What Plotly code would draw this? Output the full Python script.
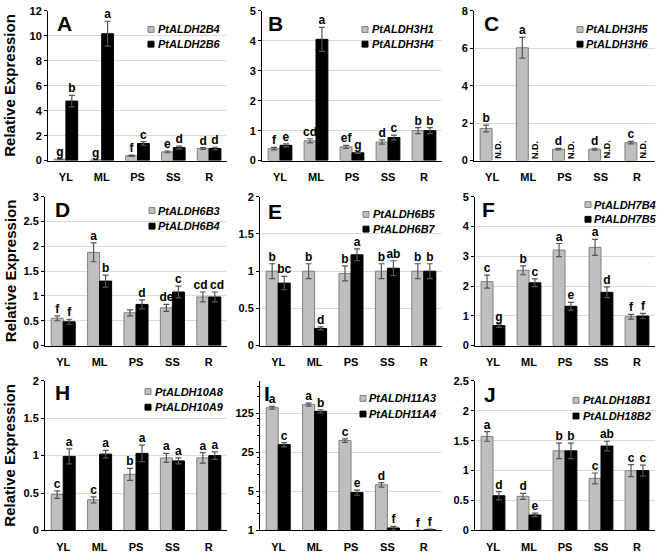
import plotly.graph_objects as go

W, H = 657, 559
FONT = "Liberation Sans"
cats = ["YL", "ML", "PS", "SS", "R"]

# ---------------- data ----------------
A_genes = ["PtALDH2B4", "PtALDH2B6"]
A_gray = [0.12, 0.05, 0.39, 0.70, 0.97]
A_gray_err = [0.02, 0.01, 0.05, 0.07, 0.08]
A_black = [4.77, 10.17, 1.38, 1.04, 0.97]
A_black_err = [0.46, 1.00, 0.15, 0.12, 0.10]
A_gray_lbl = ["g", "g", "f", "e", "d"]
A_black_lbl = ["b", "a", "c", "d", "d"]

B_genes = ["PtALDH3H1", "PtALDH3H4"]
B_gray = [0.40, 0.66, 0.46, 0.62, 1.00]
B_gray_err = [0.04, 0.07, 0.05, 0.07, 0.10]
B_black = [0.51, 4.05, 0.26, 0.77, 1.00]
B_black_err = [0.05, 0.40, 0.02, 0.08, 0.10]
B_gray_lbl = ["f", "cd", "ef", "d", "b"]
B_black_lbl = ["e", "a", "g", "c", "b"]

C_genes = ["PtALDH3H5", "PtALDH3H6"]
C_gray = [1.72, 6.03, 0.61, 0.61, 0.96]
C_gray_err = [0.18, 0.55, 0.04, 0.05, 0.07]
C_black = [None, None, None, None, None]
C_black_err = [0, 0, 0, 0, 0]
C_gray_lbl = ["b", "a", "d", "d", "c"]
C_black_lbl = ["", "", "", "", ""]
C_black_nd = ["N.D.", "N.D.", "N.D.", "N.D.", "N.D."]

D_genes = ["PtALDH6B3", "PtALDH6B4"]
D_gray = [0.55, 1.88, 0.66, 0.76, 0.98]
D_gray_err = [0.05, 0.19, 0.06, 0.07, 0.10]
D_black = [0.48, 1.30, 0.83, 1.08, 0.98]
D_black_err = [0.05, 0.12, 0.09, 0.12, 0.10]
D_gray_lbl = ["f", "a", "", "de", "cd"]
D_black_lbl = ["f", "b", "d", "c", "cd"]

E_genes = ["PtALDH6B5", "PtALDH6B7"]
E_gray = [1.00, 1.00, 0.97, 1.00, 1.00]
E_gray_err = [0.10, 0.10, 0.10, 0.10, 0.10]
E_black = [0.84, 0.23, 1.22, 1.04, 1.00]
E_black_err = [0.09, 0.02, 0.08, 0.10, 0.10]
E_gray_lbl = ["b", "b", "b", "b", "b"]
E_black_lbl = ["bc", "d", "a", "ab", "b"]

F_genes = ["PtALDH7B4", "PtALDH7B5"]
F_gray = [2.15, 2.53, 3.21, 3.30, 0.97]
F_gray_err = [0.22, 0.15, 0.22, 0.27, 0.08]
F_black = [0.67, 2.11, 1.32, 1.79, 0.99]
F_black_err = [0.06, 0.13, 0.13, 0.18, 0.09]
F_gray_lbl = ["c", "b", "a", "a", "f"]
F_black_lbl = ["g", "c", "e", "d", "f"]

H_genes = ["PtALDH10A8", "PtALDH10A9"]
H_gray = [0.48, 0.41, 0.75, 0.97, 0.97]
H_gray_err = [0.05, 0.04, 0.08, 0.06, 0.07]
H_black = [0.99, 1.02, 1.03, 0.93, 1.00]
H_black_err = [0.10, 0.05, 0.11, 0.04, 0.05]
H_gray_lbl = ["c", "c", "b", "a", "a"]
H_black_lbl = ["a", "a", "a", "a", "a"]

I_genes = ["PtALDH11A3", "PtALDH11A4"]
I_gray = [159, 181, 41, 6.6, 1.0]
I_gray_err = [9, 11, 3, 0.6, 0.02]
I_black = [34.6, 137, 4.78, 1.11, 1.03]
I_black_err = [3, 9, 0.5, 0.08, 0.03]
I_gray_lbl = ["a", "a", "c", "d", "f"]
I_black_lbl = ["c", "b", "e", "f", "f"]

J_genes = ["PtALDH18B1", "PtALDH18B2"]
J_gray = [1.57, 0.57, 1.33, 0.87, 1.00]
J_gray_err = [0.08, 0.05, 0.13, 0.09, 0.10]
J_black = [0.58, 0.26, 1.33, 1.41, 1.00]
J_black_err = [0.07, 0.03, 0.13, 0.08, 0.09]
J_gray_lbl = ["a", "d", "b", "c", "c"]
J_black_lbl = ["d", "e", "b", "ab", "c"]

# ---------------- layout specs (pixel boxes) ----------------
panels = [
    dict(L="A", genes=A_genes, g=A_gray, ge=A_gray_err, b=A_black, be=A_black_err, gl=A_gray_lbl, bl=A_black_lbl,
         px=(48, 227), py=(5, 158), yr=(0, 12), dt=2, leg=(148, 156, 24, 39), let=(55, 18)),
    dict(L="B", genes=B_genes, g=B_gray, ge=B_gray_err, b=B_black, be=B_black_err, gl=B_gray_lbl, bl=B_black_lbl,
         px=(262, 442), py=(5, 158), yr=(0, 5), dt=1, leg=(362, 370, 24, 39), let=(266, 18)),
    dict(L="C", genes=C_genes, g=C_gray, ge=C_gray_err, b=C_black, be=C_black_err, gl=C_gray_lbl, bl=C_black_lbl,
         px=(474, 655), py=(5, 158), yr=(0, 8), dt=2, leg=(577, 584, 24, 39), let=(482, 18), nd=C_black_nd),
    dict(L="D", genes=D_genes, g=D_gray, ge=D_gray_err, b=D_black, be=D_black_err, gl=D_gray_lbl, bl=D_black_lbl,
         px=(45, 227), py=(195, 347), yr=(0, 3), dt=0.5, leg=(149, 156, 209, 225), let=(53, 208)),
    dict(L="E", genes=E_genes, g=E_gray, ge=E_gray_err, b=E_black, be=E_black_err, gl=E_gray_lbl, bl=E_black_lbl,
         px=(260, 442), py=(195, 347), yr=(0, 2), dt=0.5, leg=(363, 371, 213, 228), let=(266, 210)),
    dict(L="F", genes=F_genes, g=F_gray, ge=F_gray_err, b=F_black, be=F_black_err, gl=F_gray_lbl, bl=F_black_lbl,
         px=(475, 655), py=(195, 347), yr=(0, 5), dt=1, leg=(585, 592, 203, 218), let=(480, 208)),
    dict(L="H", genes=H_genes, g=H_gray, ge=H_gray_err, b=H_black, be=H_black_err, gl=H_gray_lbl, bl=H_black_lbl,
         px=(45, 227), py=(383, 536), yr=(0, 2), dt=0.5, leg=(145, 153, 394, 410), let=(53, 395)),
    dict(L="I", genes=I_genes, g=I_gray, ge=I_gray_err, b=I_black, be=I_black_err, gl=I_gray_lbl, bl=I_black_lbl,
         px=(260, 442), py=(383, 536), yr=(0, 2.684), dt=None, log=True, leg=(360, 367, 401, 417), let=(262, 396)),
    dict(L="J", genes=J_genes, g=J_gray, ge=J_gray_err, b=J_black, be=J_black_err, gl=J_gray_lbl, bl=J_black_lbl,
         px=(475, 655), py=(383, 536), yr=(0, 2.5), dt=0.5, leg=(573, 581, 403, 419), let=(482, 397)),
]

GRAY = "#bfbfbf"
GRAY_LINE = "#7f7f7f"
ERR = "#555555"
BW = 0.33

def fx(p):
    return p / W

def fy(p):
    return 1 - p / H

fig = go.Figure()
annotations = []
shapes = []
xs = list(range(len(cats)))

for k, p in enumerate(panels, start=1):
    xa = "x" if k == 1 else f"x{k}"
    ya = "y" if k == 1 else f"y{k}"
    fig.add_trace(go.Bar(x=xs, y=p["g"], width=BW, offset=-BW, xaxis=xa, yaxis=ya,
                         marker=dict(color=GRAY, line=dict(color=GRAY_LINE, width=1)),
                         error_y=dict(type="data", array=p["ge"], color=ERR, thickness=1.2, width=3),
                         showlegend=False, hoverinfo="skip"))
    fig.add_trace(go.Bar(x=xs, y=p["b"], width=BW, offset=0, xaxis=xa, yaxis=ya,
                         marker=dict(color="black", line=dict(color="black", width=1)),
                         error_y=dict(type="data", array=p["be"], color=ERR, thickness=1.2, width=3),
                         showlegend=False, hoverinfo="skip"))
    # significance letters (spread a little when two long labels sit side by side)
    spread = [0.06 if (len(a) > 1 and len(b) > 1) else 0.0 for a, b in zip(p["gl"], p["bl"])]
    gx = [i - BW / 2 - s for i, s in zip(xs, spread)]
    bx = [i + BW / 2 + s for i, s in zip(xs, spread)]
    gy = [v + e for v, e in zip(p["g"], p["ge"])]
    fig.add_trace(go.Scatter(x=gx, y=gy, text=p["gl"], mode="text", textposition="top center",
                             textfont=dict(family=FONT, size=12, color="black", weight="bold"),
                             xaxis=xa, yaxis=ya, cliponaxis=False, showlegend=False, hoverinfo="skip"))
    bvals = [(v + e) if v is not None else None for v, e in zip(p["b"], p["be"])]
    fig.add_trace(go.Scatter(x=bx, y=bvals, text=p["bl"], mode="text", textposition="top center",
                             textfont=dict(family=FONT, size=12, color="black", weight="bold"),
                             xaxis=xa, yaxis=ya, cliponaxis=False, showlegend=False, hoverinfo="skip"))
    if "nd" in p:
        for i, t in enumerate(p["nd"]):
            annotations.append(dict(x=i + BW / 2, y=0, xref=xa, yref=ya, text=f"<b>{t}</b>", textangle=-90,
                                    showarrow=False, xanchor="center", yanchor="bottom",
                                    font=dict(family=FONT, size=9, color="black")))

    xdom = [fx(p["px"][0]), fx(p["px"][1])]
    ydom = [fy(p["py"][1]), fy(p["py"][0])]
    xkey = "xaxis" if k == 1 else f"xaxis{k}"
    ykey = "yaxis" if k == 1 else f"yaxis{k}"
    fig.layout[xkey] = dict(domain=xdom, anchor=ya, range=[-0.5, 4.5], tickvals=xs, ticktext=cats,
                            showline=True, linecolor="black", linewidth=1, ticks="", showgrid=False,
                            zeroline=False, ticklabelstandoff=6,
                            tickfont=dict(family=FONT, size=11, color="black", weight="bold"))
    ydict = dict(domain=ydom, anchor=xa, showline=True, linecolor="black", linewidth=1,
                 ticks="outside", ticklen=3, tickcolor="black", showgrid=True, gridcolor="#d9d9d9",
                 gridwidth=1, zeroline=False,
                 tickfont=dict(family=FONT, size=11, color="black", weight="bold"))
    if p.get("log"):
        ydict.update(type="log", range=list(p["yr"]), tickvals=[1, 5, 25, 125], ticktext=["1", "5", "25", "125"],
                     minor=dict(tickvals=[2, 3, 4, 10, 15, 20, 50, 75, 100, 250, 375],
                                ticks="outside", ticklen=2, tickcolor="black", showgrid=False))
    else:
        ydict.update(range=list(p["yr"]), dtick=p["dt"], tick0=0)
    fig.layout[ykey] = ydict

    # panel letter
    annotations.append(dict(x=fx(p["let"][0]), y=fy(p["let"][1]), xref="paper", yref="paper",
                            text=f"<b>{p['L']}</b>", showarrow=False, xanchor="left", yanchor="middle",
                            font=dict(family=FONT, size=21, color="black")))
    # legend keys
    sx, tx, y1, y2 = p["leg"]
    for yy, name, col, lc in [(y1, p["genes"][0], GRAY, GRAY_LINE), (y2, p["genes"][1], "black", "black")]:
        shapes.append(dict(type="rect", xref="paper", yref="paper", x0=fx(sx), x1=fx(sx + 6),
                           y0=fy(yy + 3), y1=fy(yy - 3), fillcolor=col, line=dict(color=lc, width=1)))
        annotations.append(dict(x=fx(tx), y=fy(yy), xref="paper", yref="paper", text=f"<b><i>{name}</i></b>",
                                showarrow=False, xanchor="left", yanchor="middle",
                                font=dict(family=FONT, size=11, color="black")))

# y-axis titles
for yc in [(5 + 158) / 2, (195 + 347) / 2, (383 + 536) / 2]:
    annotations.append(dict(x=fx(10), y=fy(yc), xref="paper", yref="paper", text="<b>Relative Expression</b>",
                            textangle=-90, showarrow=False, xanchor="center", yanchor="middle",
                            font=dict(family=FONT, size=15, color="black")))

fig.update_layout(width=W, height=H, margin=dict(l=0, r=0, t=0, b=0), barmode="overlay",
                  paper_bgcolor="white", plot_bgcolor="white", showlegend=False,
                  annotations=annotations, shapes=shapes)

fig.write_html("out.html", config={"displayModeBar": False},
               post_script="document.body.style.margin='0';document.body.style.padding='0';")
